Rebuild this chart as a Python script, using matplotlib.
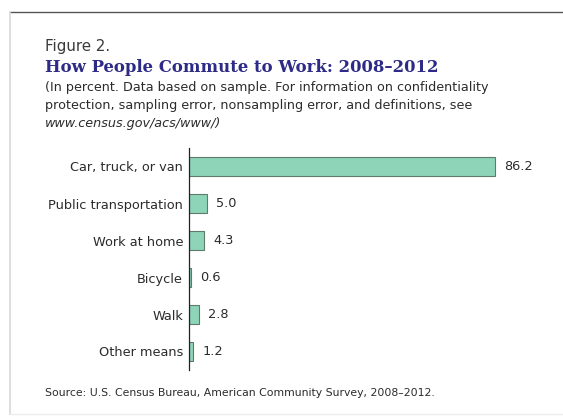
import matplotlib
from matplotlib import pyplot as plt
from matplotlib.lines import Line2D

matplotlib.use("Agg")

# Datos del gráfico
modes = ['Car, truck, or van', 'Public transportation', 'Work at home',
         'Bicycle', 'Walk', 'Other means']
percent = [86.2, 5.0, 4.3, 0.6, 2.8, 1.2]

title_color = '#2d2b86'
text_color = '#2b2b2b'
bar_color = '#8ed4b8'
edge_color = '#5d7c6c'

W, H = 563, 419
fig = plt.figure(figsize=(W / 100, H / 100), dpi=100)
fig.patch.set_facecolor('white')

# marco del panel
fig.add_artist(Line2D([10 / W, 1], [1 - 12 / H, 1 - 12 / H], color='#555555', lw=1.0))
fig.add_artist(Line2D([10 / W, 10 / W], [1 - 12 / H, 1 - 414 / H], color='#d8d8d8', lw=1.2))
fig.add_artist(Line2D([10 / W, 1], [1 - 414 / H, 1 - 414 / H], color='#ececec', lw=1.0))

# textos de cabecera
fig.text(45 / W, 1 - 46 / H, 'Figure 2.', fontsize=10.8, color='#3a3a3a',
         va='center', ha='left')
fig.text(45 / W, 1 - 68 / H, 'How People Commute to Work: 2008–2012',
         fontsize=11.9, fontweight='bold', family='DejaVu Serif',
         color=title_color, va='center', ha='left')
fig.text(45 / W, 1 - 88 / H,
         '(In percent. Data based on sample. For information on confidentiality',
         fontsize=9.2, color=text_color, va='center', ha='left')
fig.text(45 / W, 1 - 106 / H,
         'protection, sampling error, nonsampling error, and definitions, see',
         fontsize=9.2, color=text_color, va='center', ha='left')
fig.text(45 / W, 1 - 124 / H, 'www.census.gov/acs/www/)',
         fontsize=9.2, style='italic', color=text_color, va='center', ha='left')
fig.text(45 / W, 1 - 393 / H,
         'Source: U.S. Census Bureau, American Community Survey, 2008–2012.',
         fontsize=7.8, color=text_color, va='center', ha='left')

# gráfico de barras
ax = fig.add_axes([189 / W, 1 - 370 / H, 355 / W, 222 / H])
ax.set_facecolor('none')
pos = list(range(len(modes)))
ax.barh(pos, percent, height=0.54, color=bar_color, edgecolor=edge_color, linewidth=0.8)
for y, v in zip(pos, percent):
    ax.text(v + 2.6, y, f'{v:.1f}', va='center', ha='left', fontsize=9.3, color=text_color)

ax.set_xlim(0, 100)
ax.set_ylim(len(modes) - 0.5, -0.5)
ax.set_yticks(pos)
ax.set_yticklabels(modes, fontsize=9.3, color=text_color)
ax.set_xticks([])
ax.tick_params(axis='y', length=0, pad=4.3)
for side in ['top', 'right', 'bottom']:
    ax.spines[side].set_visible(False)
ax.spines['left'].set_color('#222222')
ax.spines['left'].set_linewidth(0.9)

fig.savefig('out.png', dpi=100)
plt.close(fig)
